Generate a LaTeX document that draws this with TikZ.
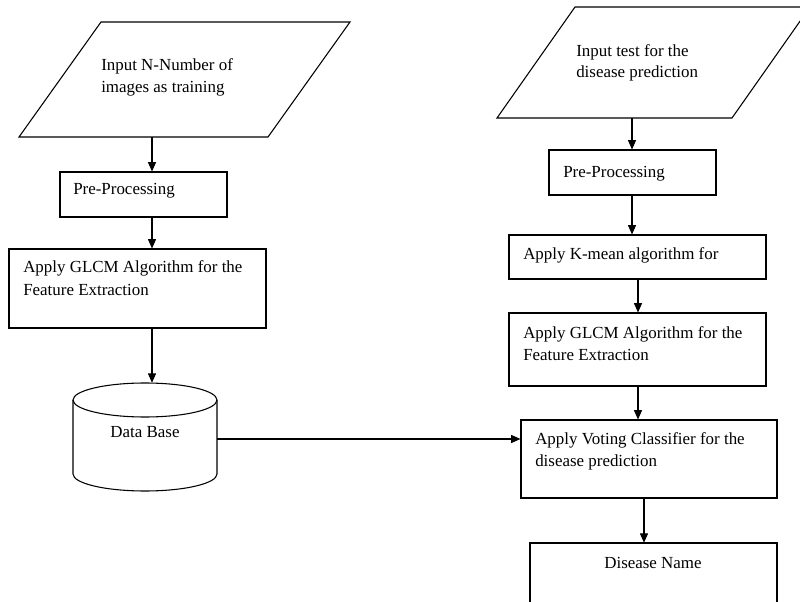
\documentclass[tikz,border=0pt]{standalone}
\usepackage{fontspec}
\setmainfont{Liberation Serif}
\usetikzlibrary{arrows.meta,fit}
\begin{document}
\begin{tikzpicture}[x=0.75pt,y=-0.75pt,
  box/.style={draw,line width=0.8pt,inner sep=0pt},
  shp/.style={draw,line width=0.8pt},
  txt/.style={anchor=base west,inner sep=0pt,font=\fontsize{12.7}{15}\selectfont},
  ctxt/.style={anchor=base,inner sep=0pt,font=\fontsize{12.7}{15}\selectfont},
  arr/.style={line width=0.8pt,-{Triangle[length=7pt,width=6pt]}}]
\useasboundingbox (0,0) rectangle (800,602);
\clip (0,0) rectangle (800,602);
\fill[white] (0,0) rectangle (800,602);
% left input parallelogram
\draw[shp] (19,137) -- (101,22) -- (350,22) -- (268,137) -- cycle;
\coordinate (in1b) at (152,137);
\node[txt] (in1t1) at (101,71) {Input N-Number of};
\node[txt] (in1t2) at (101,93) {images as training};
% right input parallelogram
\draw[shp] (497,118) -- (575,7) -- (810,7) -- (732,118) -- cycle;
\coordinate (in2b) at (632,118);
\node[txt] (in2t1) at (576,57) {Input test for the};
\node[txt] (in2t2) at (576,78) {disease prediction};
% left boxes
\node[box,fit={(60,172) (227,217)}] (pre1) {};
\node[txt] (pre1t) at (73,195) {Pre-Processing};
\node[box,fit={(9,249) (266,328)}] (glcm1) {};
\node[txt] (glcm1t1) at (23,273) {Apply GLCM Algorithm for the};
\node[txt] (glcm1t2) at (23,296) {Feature Extraction};
% database cylinder
\draw[shp,fill=white] (73,400) -- (73,474) arc[start angle=180,end angle=0,x radius=72,y radius=17] -- (217,400);
\draw[shp] (145,400) ellipse[x radius=72,y radius=17];
\node[inner sep=0pt,fit={(73,383) (217,491)}] (db) {};
\node[ctxt] (dbt) at (145,437) {Data Base};
% right boxes
\node[box,fit={(549,150) (716,195)}] (pre2) {};
\node[txt] (pre2t) at (563,178) {Pre-Processing};
\node[box,fit={(509,235) (766,279)}] (kmean) {};
\node[txt] (kmeant) at (523,260) {Apply K-mean algorithm for};
\node[box,fit={(509,313) (766,386)}] (glcm2) {};
\node[txt] (glcm2t1) at (523,339) {Apply GLCM Algorithm for the};
\node[txt] (glcm2t2) at (523,361) {Feature Extraction};
\node[box,fit={(521,420) (777,498)}] (vote) {};
\node[txt] (votet1) at (535,444) {Apply Voting Classifier for the};
\node[txt] (votet2) at (535,466) {disease prediction};
\draw[shp] (530,610) -- (530,543) -- (777,543) -- (777,610);
\node[inner sep=0pt,fit={(530,543) (777,602)}] (name) {};
\node[ctxt] (namet) at (653,568) {Disease Name};
% connectors
\draw[arr] (in1b) -- (in1b |- pre1.north);
\draw[arr] (pre1.south -| in1b) -- (glcm1.north -| in1b);
\draw[arr] (glcm1.south -| in1b) -- (db.north -| in1b);
\coordinate (dbr) at (217,439);
\draw[arr] (dbr) -- (dbr -| vote.west);
\draw[arr] (in2b) -- (in2b |- pre2.north);
\draw[arr] (pre2.south -| in2b) -- (kmean.north -| in2b);
\coordinate (kx) at (638,0);
\draw[arr] (kmean.south -| kx) -- (glcm2.north -| kx);
\draw[arr] (glcm2.south -| kx) -- (vote.north -| kx);
\coordinate (vx) at (644,0);
\draw[arr] (vote.south -| vx) -- (name.north -| vx);
\end{tikzpicture}
\end{document}
